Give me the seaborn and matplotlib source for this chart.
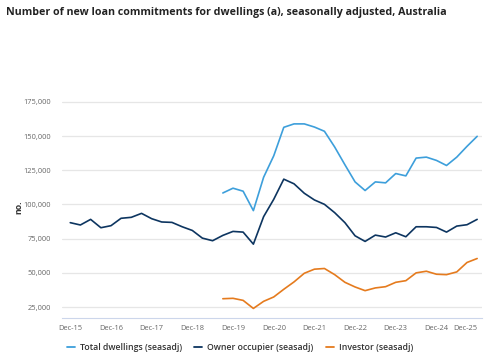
import pandas as pd
import numpy as np
import matplotlib
matplotlib.use('Agg')
import matplotlib.pyplot as plt
import matplotlib.transforms as mtransforms
from matplotlib.ticker import FuncFormatter
from matplotlib.lines import Line2D
import seaborn as sns

# quarterly, Dec-15 .. Dec-25
quarters = pd.date_range('2015-12-01', periods=41, freq='3MS')

owner = [86.7, 85.0, 89.1, 83.0, 84.5, 89.9, 90.6, 93.5, 89.6, 87.2, 86.9, 83.7,
         81.0, 75.4, 73.5, 77.4, 80.3, 79.8, 71.0, 91.1, 103.8, 118.5, 115.1, 108.2,
         103.3, 100.1, 94.0, 86.7, 77.1, 73.0, 77.6, 76.2, 79.3, 76.4, 83.7, 83.7,
         83.2, 79.8, 84.2, 85.2, 89.1]
total = [np.nan] * 15 + [108.4, 111.9, 109.7, 95.5, 119.9, 135.6, 156.4, 158.9, 158.9,
         156.6, 153.5, 142.0, 129.0, 116.5, 110.2, 116.5, 115.8, 122.6, 120.9, 133.9,
         134.6, 132.2, 128.5, 134.6, 142.5, 149.8]
investor = [np.nan] * 15 + [31.1, 31.4, 29.9, 24.0, 29.2, 32.4, 38.0, 43.4, 49.7,
            52.7, 53.2, 48.7, 43.1, 39.7, 37.0, 39.0, 39.9, 43.1, 44.3, 50.0,
            51.2, 49.0, 48.7, 50.7, 57.6, 60.5]

series_names = ['Total dwellings (seasadj)', 'Owner occupier (seasadj)', 'Investor (seasadj)']
colors = ['#3d9fdb', '#0d3560', '#e57b1e']
yticks = [25000, 50000, 75000, 100000, 125000, 150000, 175000]

df = pd.concat([
    pd.DataFrame({'quarter': quarters, 'value': np.array(v) * 1000, 'series': n})
    for n, v in zip(series_names, [total, owner, investor])
])
df = df.dropna()

sns.set_style('white')
plt.rcParams['font.family'] = ['Open Sans', 'DejaVu Sans']

fig = plt.figure(figsize=(4.9, 3.62), dpi=100)
ax = fig.add_axes([0.127, 0.1215, 0.857, 0.616])

sns.lineplot(data=df, x='quarter', y='value', hue='series', hue_order=series_names,
             palette=dict(zip(series_names, colors)), linewidth=1.2, legend=False, ax=ax)

ax.set_xlim(quarters[0] - pd.Timedelta(days=72), quarters[-1] + pd.Timedelta(days=45))
ax.set_ylim(17000, 180000)
ax.set_yticks(yticks)
ax.yaxis.set_major_formatter(FuncFormatter(lambda v, p: f'{int(v):,}'))
ax.grid(axis='y', color='#e6e6e6', linewidth=0.9)
ax.set_axisbelow(True)

dec_ticks = quarters[::4]
ax.set_xticks(dec_ticks)
ax.set_xticklabels([d.strftime('Dec-%y') for d in dec_ticks])
lbls = ax.get_xticklabels()
lbls[-1].set_horizontalalignment('right')
lbls[-1].set_transform(lbls[-1].get_transform() +
                       mtransforms.ScaledTranslation(0.08, 0, fig.dpi_scale_trans))

ax.tick_params(axis='both', length=0, labelsize=5.4, labelcolor='#666666')
ax.tick_params(axis='x', pad=5)
ax.tick_params(axis='y', pad=8)
for s in ['left', 'right', 'top']:
    ax.spines[s].set_visible(False)
ax.spines['bottom'].set_color('#ccd6eb')
ax.spines['bottom'].set_linewidth(0.8)

ax.set_xlabel('')
ax.set_ylabel('')
fig.text(19 / 490, 1 - 207 / 362, 'no.', rotation=90, fontsize=6.3, fontweight='bold',
         color='#333333', ha='center', va='center')

fig.text(0.012, 0.965, 'Number of new loan commitments for dwellings (a), seasonally adjusted, Australia',
         fontsize=7.7, fontweight='bold', color='#222222', va='center', ha='left')

handles = [Line2D([], [], color=c, linewidth=1.3) for c in colors]
fig.legend(handles, series_names, loc='center', bbox_to_anchor=(0.49, 0.041), ncol=3,
           frameon=False, handlelength=0.9, handletextpad=0.6,
           columnspacing=1.4, labelcolor='#333333',
           prop={'family': ['Open Sans', 'DejaVu Sans'], 'size': 6.3, 'weight': 'semibold'})

fig.savefig('out.png', dpi=100)
